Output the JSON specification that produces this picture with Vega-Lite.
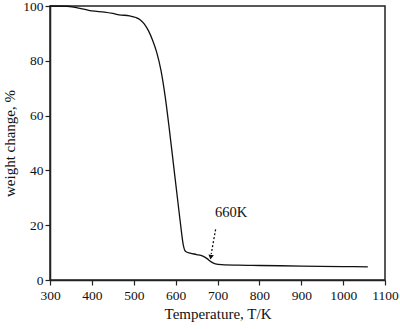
{
  "$schema": "https://vega.github.io/schema/vega-lite/v6.json",
  "autosize": "none",
  "width": 335,
  "height": 274,
  "padding": {"left": 50, "top": 6, "right": 15, "bottom": 49},
  "background": "white",
  "config": {
    "font": "Liberation Serif",
    "view": {"stroke": "#222", "strokeWidth": 1.5},
    "axis": {
      "labelFont": "Liberation Serif",
      "titleFont": "Liberation Serif",
      "labelFontSize": 13.5,
      "titleFontSize": 15,
      "titleFontWeight": "normal",
      "labelColor": "#111",
      "titleColor": "#111",
      "domainColor": "#222",
      "domainWidth": 1.5,
      "tickColor": "#222",
      "tickWidth": 1.2,
      "labelFlush": false,
      "labelOverlap": false,
      "grid": false
    }
  },
  "datasets": {
    "curve": [
      {"T": 300, "w": 100}, {"T": 340, "w": 99.9}, {"T": 360, "w": 99.5},
      {"T": 380, "w": 98.9}, {"T": 400, "w": 98.2}, {"T": 430, "w": 97.8},
      {"T": 450, "w": 97.3}, {"T": 465, "w": 96.8}, {"T": 490, "w": 96.4},
      {"T": 505, "w": 95.8}, {"T": 515, "w": 95}, {"T": 525, "w": 93.5},
      {"T": 535, "w": 91}, {"T": 545, "w": 87.5}, {"T": 555, "w": 83},
      {"T": 565, "w": 76.5}, {"T": 575, "w": 67}, {"T": 585, "w": 55},
      {"T": 595, "w": 42}, {"T": 605, "w": 29}, {"T": 612, "w": 20},
      {"T": 618, "w": 13}, {"T": 624, "w": 10.4}, {"T": 635, "w": 9.8},
      {"T": 650, "w": 9.3}, {"T": 665, "w": 8.7}, {"T": 675, "w": 7.8},
      {"T": 685, "w": 6.6}, {"T": 695, "w": 5.9}, {"T": 710, "w": 5.6},
      {"T": 750, "w": 5.4}, {"T": 800, "w": 5.3}, {"T": 900, "w": 5.1},
      {"T": 1000, "w": 4.9}, {"T": 1059, "w": 4.8}
    ],
    "arrow": [
      {"x1": 695.5, "y1": 18.5, "x2": 685, "y2": 9.5}
    ],
    "tip": [
      {"x": 684, "y": 8.3, "label": "660K", "lx": 694, "ly": 24.5}
    ]
  },
  "layer": [
    {
      "data": {"name": "curve"},
      "mark": {"type": "line", "color": "#111", "strokeWidth": 1.3, "interpolate": "monotone"},
      "encoding": {
        "x": {
          "field": "T", "type": "quantitative",
          "scale": {"domain": [300, 1100], "nice": false},
          "axis": {
            "title": "Temperature, T/K",
            "values": [300,350,400,450,500,550,600,650,700,750,800,850,900,950,1000,1050,1100],
            "labelExpr": "datum.value % 100 === 0 ? datum.value : ''",
            "tickSize": {"condition": {"test": "datum.value % 100 === 0", "value": 5}, "value": 3},
            "labelPadding": 3,
            "titlePadding": 5
          }
        },
        "y": {
          "field": "w", "type": "quantitative",
          "scale": {"domain": [0, 100], "nice": false},
          "axis": {
            "title": "weight change, %",
            "values": [0,10,20,30,40,50,60,70,80,90,100],
            "labelExpr": "datum.value % 20 === 0 ? datum.value : ''",
            "tickSize": {"condition": {"test": "datum.value % 20 === 0", "value": 5}, "value": 3},
            "labelPadding": 2,
            "titlePadding": 5
          }
        }
      }
    },
    {
      "data": {"name": "arrow"},
      "mark": {"type": "rule", "color": "#111", "strokeWidth": 1.3, "strokeDash": [2, 2]},
      "encoding": {
        "x": {"field": "x1", "type": "quantitative"},
        "y": {"field": "y1", "type": "quantitative"},
        "x2": {"field": "x2"},
        "y2": {"field": "y2"}
      }
    },
    {
      "data": {"name": "tip"},
      "mark": {"type": "point", "shape": "triangle-down", "filled": true, "color": "#111", "size": 30, "angle": 9, "opacity": 1},
      "encoding": {
        "x": {"field": "x", "type": "quantitative"},
        "y": {"field": "y", "type": "quantitative"}
      }
    },
    {
      "data": {"name": "tip"},
      "mark": {"type": "text", "align": "left", "baseline": "middle", "fontSize": 14.5, "color": "#111", "font": "Liberation Serif"},
      "encoding": {
        "x": {"field": "lx", "type": "quantitative"},
        "y": {"field": "ly", "type": "quantitative"},
        "text": {"field": "label"}
      }
    }
  ]
}
